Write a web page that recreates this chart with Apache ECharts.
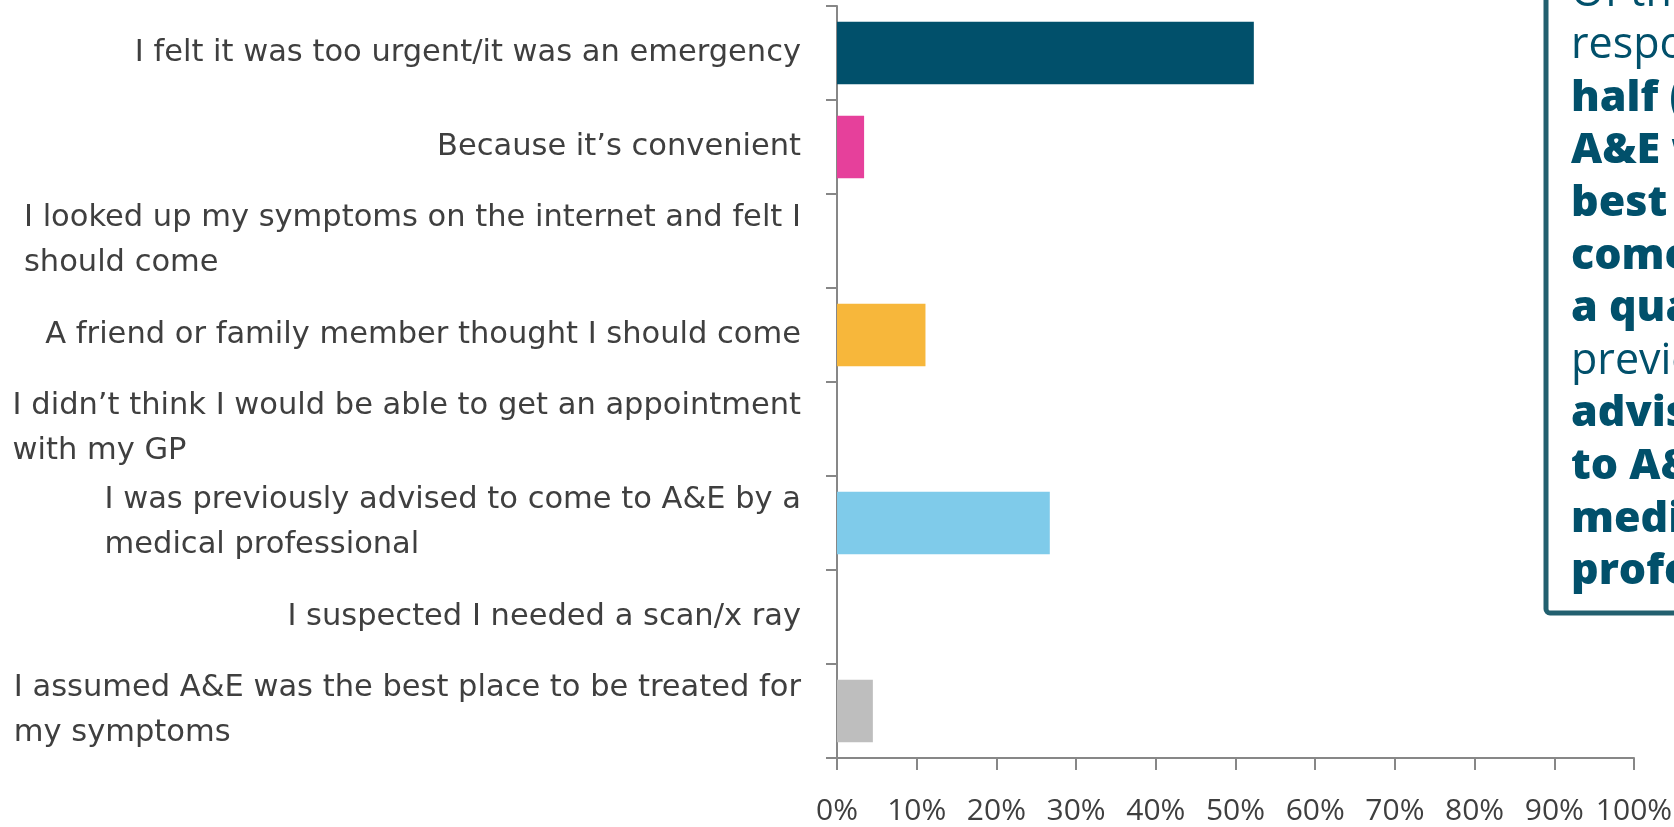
<!DOCTYPE html>
<html>
<head>
<meta charset="utf-8">
<script src="https://cdn.jsdelivr.net/npm/echarts@6/dist/echarts.min.js"></script>
<style>
  html, body { margin: 0; padding: 0; background: #ffffff; }
  #chart { width: 1674px; height: 827px; }
</style>
</head>
<body>
<div id="chart"></div>
<script>
// Reasons respondents gave for attending A&E (share of respondents, %)
const categories = [
  'I felt it was too urgent/it was an emergency',
  'Because it\u2019s convenient',
  'I looked up my symptoms on the internet and felt I\nshould come',
  'A friend or family member thought I should come',
  'I didn\u2019t think I would be able to get an appointment\nwith my GP',
  'I was previously advised to come to A&E by a\nmedical professional',
  'I suspected I needed a scan/x ray',
  'I assumed A&E was the best place to be treated for\nmy symptoms'
];
const shares = [52.3, 3.4, 0, 11.1, 0, 26.7, 0, 4.5];
const barColors = ['#01506B', '#E6409B', '#01506B', '#F7B73B', '#01506B', '#7FCBEA', '#01506B', '#BEBEBE'];
const axisTicks = [0, 10, 20, 30, 40, 50, 60, 70, 80, 90, 100];

// Call-out text beside the chart: [line, bold?]
const noteLines = [
  ['Of the', false],
  ['respondents,', false],
  ['half (' + Math.round(shares[0]) + '%) felt', true],
  ['A&E was the', true],
  ['best place to', true],
  ['come, and over', true],
  ['a quarter (' + Math.round(shares[5]) + '%)', true],
  ['previously', false],
  ['advised to come', true],
  ['to A&E by a', true],
  ['medical', true],
  ['professional.', true]
];

const FONT = '"Open Sans", "Noto Sans", sans-serif';
const LABEL_FONT = '"DejaVu Sans", "Open Sans", sans-serif';
const AXIS_COLOR = '#878787';
const TEXT_COLOR = '#3f3f3f';
const NOTE_COLOR = '#01506B';

const chart = echarts.init(document.getElementById('chart'), null, { renderer: 'canvas' });

const noteText = noteLines
  .map(([t, bold]) => '{' + (bold ? 'b' : 'r') + '|' + t + '}')
  .join('\n');

chart.setOption({
  backgroundColor: '#ffffff',
  animation: false,
  grid: { left: 837, right: 40, top: 6, bottom: 69, outerBoundsMode: 'none' },
  xAxis: {
    type: 'value',
    min: axisTicks[0],
    max: axisTicks[axisTicks.length - 1],
    interval: axisTicks[1] - axisTicks[0],
    splitLine: { show: false },
    axisLine: { show: true, lineStyle: { color: AXIS_COLOR, width: 2 } },
    axisTick: { show: true, length: 12, lineStyle: { color: AXIS_COLOR, width: 2 } },
    axisLabel: {
      margin: 38,
      color: TEXT_COLOR,
      fontFamily: FONT,
      fontSize: 30,
      formatter: '{value}%'
    }
  },
  yAxis: {
    type: 'category',
    inverse: true,
    data: categories,
    axisLine: { show: true, lineStyle: { color: AXIS_COLOR, width: 2 } },
    axisTick: { show: true, length: 11, lineStyle: { color: AXIS_COLOR, width: 2 } },
    axisLabel: {
      margin: 36,
      color: TEXT_COLOR,
      fontFamily: LABEL_FONT,
      fontSize: 30.5,
      lineHeight: 45,
      formatter: (v) => v.split('\n').map((s) => '{a|' + s + '}').join('\n'),
      rich: {
        a: { align: 'left', color: TEXT_COLOR, fontFamily: LABEL_FONT, fontSize: 30.5, lineHeight: 45 }
      }
    }
  },
  series: [{
    type: 'bar',
    barCategoryGap: '33.3%',
    data: shares.map((v, i) => ({ value: v, itemStyle: { color: barColors[i] } })),
    label: { show: false }
  }],
  graphic: [
    {
      type: 'rect',
      z: 10,
      shape: { x: 1546, y: -30, width: 300, height: 643, r: 4 },
      style: { fill: '#ffffff', stroke: '#22606F', lineWidth: 5 }
    },
    {
      type: 'text',
      z: 11,
      x: 1571,
      y: -33,
      style: {
        text: noteText,
        align: 'left',
        verticalAlign: 'top',
        lineHeight: 52.6,
        rich: {
          r: { fontFamily: FONT, fontSize: 43, fontWeight: 'normal', fill: NOTE_COLOR, color: NOTE_COLOR, lineHeight: 52.6 },
          b: { fontFamily: FONT, fontSize: 43, fontWeight: 800, fill: NOTE_COLOR, color: NOTE_COLOR, lineHeight: 52.6 }
        }
      }
    }
  ]
});
</script>
</body>
</html>
